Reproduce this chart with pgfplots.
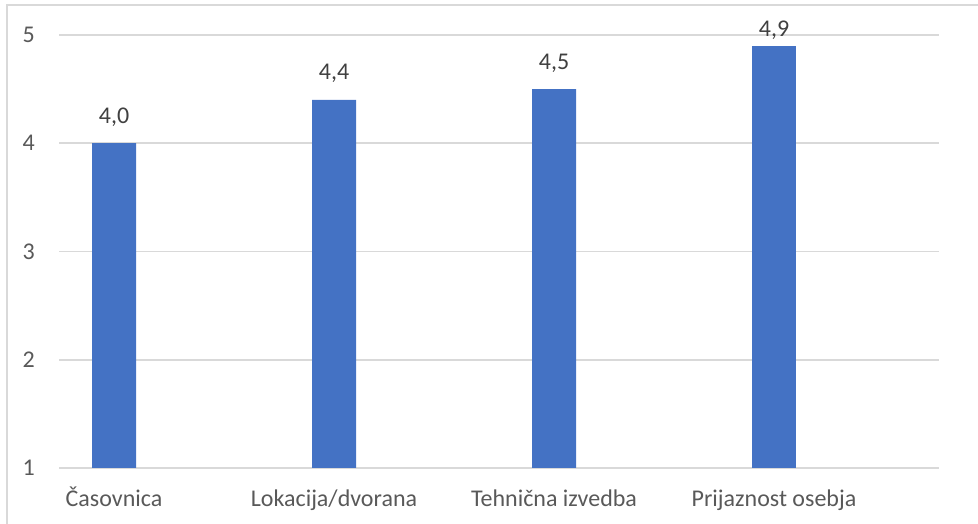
\documentclass[border=0pt]{standalone}
\usepackage{pgfplots}
\pgfplotsset{compat=1.18}
\usepackage{fontspec}
\setmainfont{Carlito}
\definecolor{barblue}{HTML}{4472C4}
\definecolor{gridgray}{HTML}{D9D9D9}
\definecolor{axtext}{HTML}{595959}
\definecolor{lbltext}{HTML}{404040}
\begin{document}
\begin{tikzpicture}[x=1bp,y=1bp]
\path[use as bounding box] (0,0) rectangle (978,524);
\draw[gridgray, line width=1.8bp] (7,0) -- (7,519) -- (978,519);
\begin{axis}[
  at={(59bp,56bp)}, anchor=south west,
  scale only axis, width=880bp, height=433bp,
  xmin=-0.25, xmax=3.75, ymin=1, ymax=5,
  ytick={1,2,3,4,5},
  xtick={0,1,2,3},
  xticklabels={Časovnica, Lokacija/dvorana, Tehnična izvedba, Prijaznost osebja},
  ymajorgrids,
  grid style={gridgray, line width=1.8bp},
  axis line style={draw=none},
  major tick length=0pt,
  /pgf/number format/assume math mode=true,
  tick label style={font=\fontsize{24bp}{28bp}\selectfont, text=axtext, inner sep=0pt},
  xticklabel style={anchor=base, yshift=-39bp},
  yticklabel style={anchor=east, xshift=-24bp},
  clip=false,
]
\addplot[ybar, bar width=44bp, bar shift=0pt, fill=barblue, draw=none,
  nodes near coords={\pgfmathprintnumber[fixed,fixed zerofill,precision=1,use comma,assume math mode=true]{\pgfplotspointmeta}},
  every node near coord/.append style={anchor=base, yshift=20bp, inner sep=0pt, text=lbltext, font=\fontsize{24bp}{28bp}\selectfont}]
  coordinates {(0,4.0) (1,4.4) (2,4.5)};
\addplot[ybar, bar width=44bp, bar shift=0pt, fill=barblue, draw=none,
  nodes near coords={\pgfmathprintnumber[fixed,fixed zerofill,precision=1,use comma,assume math mode=true]{\pgfplotspointmeta}},
  every node near coord/.append style={anchor=base, yshift=9bp, inner sep=0pt, text=lbltext, font=\fontsize{24bp}{28bp}\selectfont}]
  coordinates {(3,4.9)};
\end{axis}
\end{tikzpicture}
\end{document}
